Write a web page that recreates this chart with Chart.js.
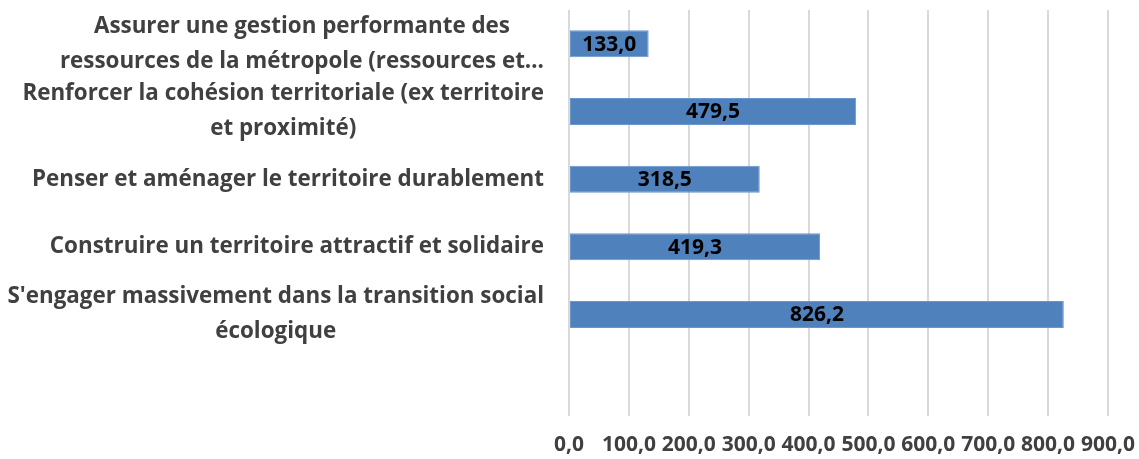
<!DOCTYPE html>
<html lang="fr">
<head>
<meta charset="utf-8">
<title>Budget par orientation</title>
<script src="https://cdn.jsdelivr.net/npm/chart.js@4"></script>
<style>
  html, body { margin: 0; padding: 0; background: #fff; }
  #wrap { width: 1139px; height: 459px; position: relative; }
</style>
</head>
<body>
<div id="wrap"><canvas id="budgetChart"></canvas></div>
<script>
// Libellés des orientations (une ligne par élément), la dernière case est vide
const categories = [
    ['Assurer une gestion performante des', 'ressources de la métropole (ressources et…'],
    ['Renforcer la cohésion territoriale (ex territoire', 'et proximité)'],
    ['Penser et aménager le territoire durablement'],
    ['Construire un territoire attractif et solidaire'],
    ["S'engager massivement dans la transition social", 'écologique'],
    ['']
];
const values = [133.0, 479.5, 318.5, 419.3, 826.2, null];
const xTicks = [0, 100, 200, 300, 400, 500, 600, 700, 800, 900];

const FONT = '"Open Sans", sans-serif';

function fmt(v) {
    return v.toFixed(1).replace('.', ',');
}

// Libellés de catégories : bloc aligné à droite, lignes centrées dans le bloc
const categoryLabels = {
    id: 'categoryLabels',
    afterDraw(chart) {
        const ctx = chart.ctx;
        const yScale = chart.scales.y;
        const right = chart.chartArea.left - 25;
        const lineH = 35;
        ctx.save();
        ctx.font = 'bold 22.4px ' + FONT;
        ctx.fillStyle = '#404040';
        ctx.textAlign = 'center';
        ctx.textBaseline = 'middle';
        categories.forEach((lines, i) => {
            const yc = yScale.getPixelForValue(i);
            const w = Math.max(...lines.map(l => ctx.measureText(l).width));
            const cx = right - w / 2;
            const y0 = yc - (lines.length - 1) * lineH / 2;
            lines.forEach((l, j) => ctx.fillText(l, cx, y0 + j * lineH));
        });
        ctx.restore();
    }
};

// Valeurs affichées au centre des barres
const barValues = {
    id: 'barValues',
    afterDatasetsDraw(chart) {
        const ctx = chart.ctx;
        const meta = chart.getDatasetMeta(0);
        ctx.save();
        ctx.font = 'bold 21px ' + FONT;
        ctx.fillStyle = '#000';
        ctx.textAlign = 'center';
        ctx.textBaseline = 'middle';
        meta.data.forEach((bar, i) => {
            if (values[i] === null) return;
            ctx.fillText(fmt(values[i]), (bar.x + bar.base) / 2, bar.y + 1);
        });
        ctx.restore();
    }
};

const ctx = document.getElementById('budgetChart').getContext('2d');
new Chart(ctx, {
    type: 'bar',
    data: {
        labels: categories.map(l => l.join(' ')),
        datasets: [{
            data: values,
            backgroundColor: '#4F81BD',
            borderColor: '#6A96CC',
            borderWidth: 1,
            borderSkipped: false,
            categoryPercentage: 1,
            barPercentage: 0.4
        }]
    },
    options: {
        indexAxis: 'y',
        responsive: true,
        maintainAspectRatio: false,
        animation: false,
        layout: { padding: { left: 569, top: 10, right: 31, bottom: 0 } },
        plugins: {
            legend: { display: false },
            tooltip: { enabled: false }
        },
        scales: {
            x: {
                min: 0,
                max: 900,
                afterBuildTicks(scale) {
                    scale.ticks = xTicks.map(v => ({ value: v }));
                },
                afterFit(scale) {
                    scale.paddingLeft = 0;
                    scale.paddingRight = 0;
                    scale.height = 43;
                },
                grid: { color: '#D9D9D9', lineWidth: 2, drawTicks: false },
                border: { display: false },
                ticks: {
                    padding: 16,
                    autoSkip: false,
                    minRotation: 0,
                    maxRotation: 0,
                    color: '#404040',
                    font: { family: FONT, size: 21, weight: 'bold' },
                    callback: v => fmt(v)
                }
            },
            y: {
                display: false
            }
        }
    },
    plugins: [categoryLabels, barValues]
});
</script>
</body>
</html>
